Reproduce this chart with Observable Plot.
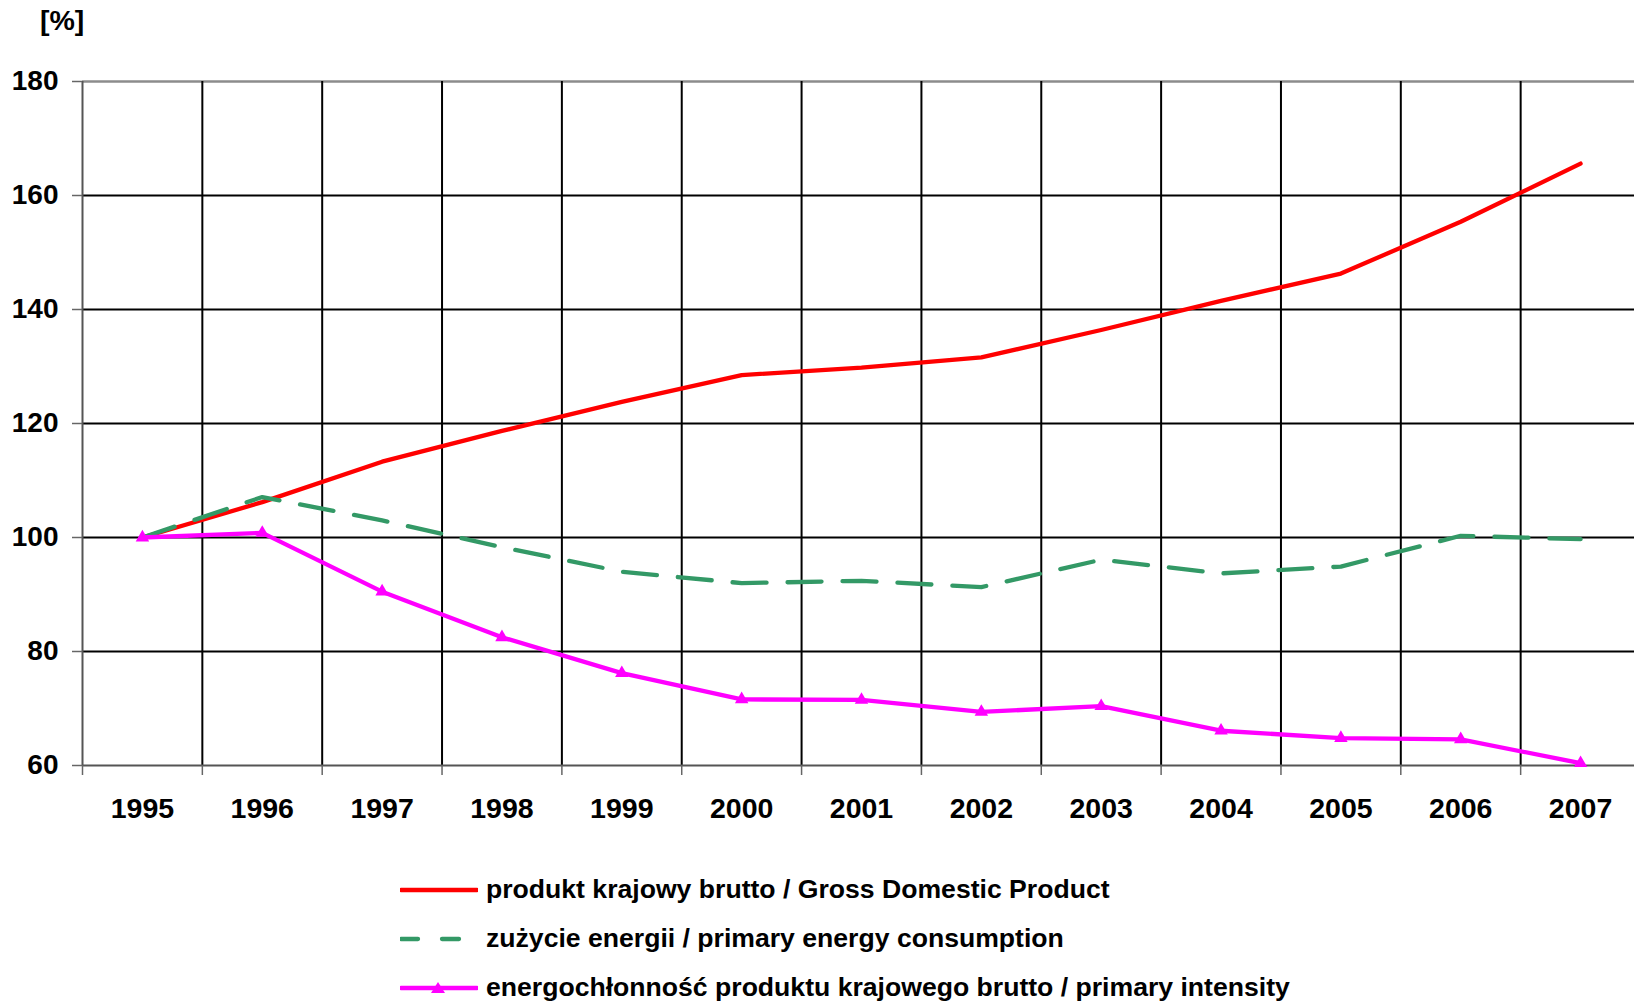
<!DOCTYPE html>
<html>
<head>
<meta charset="utf-8">
<script src="https://cdn.jsdelivr.net/npm/d3@7"></script>
<script src="https://cdn.jsdelivr.net/npm/@observablehq/plot@0.6"></script>
<style>
  html, body { margin: 0; padding: 0; background: #fff; overflow: hidden; }
  body { width: 1634px; height: 1003px; position: relative; font-family: "Liberation Sans", Arial, sans-serif; }
  #unit { position: absolute; left: 40px; top: 4px; font-size: 28.5px; font-weight: bold; line-height: 32px; }
  #chart { position: absolute; left: 0; top: 0; }
  #legend { position: absolute; left: 400px; top: 865px; font-size: 26.6px; font-weight: bold; }
  .row { height: 49px; display: flex; align-items: center; }
  .row svg { margin-right: 8px; }
</style>
</head>
<body>
<div id="chart"></div>
<div id="unit">[%]</div>
<div id="legend"></div>
<script>
const years = [1995, 1996, 1997, 1998, 1999, 2000, 2001, 2002, 2003, 2004, 2005, 2006, 2007];
const gdp = [100, 106.2, 113.3, 118.7, 123.8, 128.5, 129.8, 131.6, 136.4, 141.5, 146.3, 155.4, 165.6];
const energy = [100, 107.1, 103.0, 98.3, 94.0, 92.0, 92.4, 91.3, 96.1, 93.7, 94.9, 100.3, 99.7];
const intensity = [100, 100.8, 90.5, 82.5, 76.2, 71.6, 71.5, 69.4, 70.4, 66.1, 64.8, 64.6, 60.4];
const yTicks = [60, 80, 100, 120, 140, 160, 180];
const seriesNames = [
  "produkt krajowy brutto / Gross Domestic Product",
  "zużycie energii / primary energy consumption",
  "energochłonność produktu krajowego brutto / primary intensity"
];
const colors = ["#ff0000", "#339966", "#ff00ff"];

const gdpData = years.map((year, i) => ({year, value: gdp[i]}));
const energyData = years.map((year, i) => ({year, value: energy[i]}));
const intensityData = years.map((year, i) => ({year, value: intensity[i]}));
const boundaries = [years[0] - 0.5, ...years.map(y => y + 0.5)].slice(0, years.length);
const innerBoundaries = boundaries.slice(1);

const chart = Plot.plot({
  width: 1634,
  height: 840,
  marginLeft: 82,
  marginRight: 0,
  marginTop: 81,
  marginBottom: 75,
  style: {fontFamily: "Liberation Sans, Arial, sans-serif", fontSize: "28.5px", fontWeight: "bold", color: "#000", background: "#fff"},
  x: {domain: [years[0] - 0.5, years[years.length - 1] + 0.5], range: [82, 1640]},
  y: {domain: [60, 180]},
  marks: [
    Plot.ruleY(yTicks.filter(v => v > 60 && v < 180), {stroke: "#000", strokeWidth: 2}),
    Plot.ruleY([180], {stroke: "#8c8c8c", strokeWidth: 2.5}),
    Plot.ruleX(innerBoundaries, {stroke: "#000", strokeWidth: 2}),
    Plot.ruleY([60], {stroke: "#555", strokeWidth: 2}),
    Plot.ruleX([years[0] - 0.5], {stroke: "#555", strokeWidth: 2}),
    Plot.axisY({ticks: yTicks, tickSize: 10, tickPadding: 14, stroke: "#666", strokeWidth: 1.5, label: null, fill: "#000", fontSize: "28px"}),
    Plot.axisX({ticks: boundaries, tickSize: 10, tickFormat: () => "", stroke: "#666", strokeWidth: 1.5, label: null}),
    Plot.axisX({ticks: years, tickSize: 0, tickPadding: 32, tickFormat: d => String(d), label: null, fill: "#000", fontSize: "28.5px"}),
    Plot.line(gdpData, {x: "year", y: "value", stroke: colors[0], strokeWidth: 4.3}),
    Plot.line(energyData, {x: "year", y: "value", stroke: colors[1], strokeWidth: 4.3, strokeDasharray: "34,21"}),
    Plot.line(intensityData, {x: "year", y: "value", stroke: colors[2], strokeWidth: 4.3}),
    Plot.dot(intensityData, {x: "year", y: "value", symbol: "triangle", fill: colors[2], stroke: "none", r: 5})
  ]
});
document.getElementById("chart").appendChild(chart);

const legend = document.getElementById("legend");
seriesNames.forEach((name, i) => {
  const row = document.createElement("div");
  row.className = "row";
  const dash = i === 1 ? ' stroke-dasharray="17,24"' : '';
  const tri = i === 2 ? `<path d="M38,-6 L45,5 L31,5 Z" transform="translate(0,10)" fill="${colors[i]}"/>` : '';
  row.innerHTML = `<svg width="78" height="20"><line x1="1" y1="10" x2="77" y2="10" stroke="${colors[i]}" stroke-width="4.3" stroke-linecap="round"${dash}/>${tri}</svg><span>${name}</span>`;
  legend.appendChild(row);
});
</script>
</body>
</html>
